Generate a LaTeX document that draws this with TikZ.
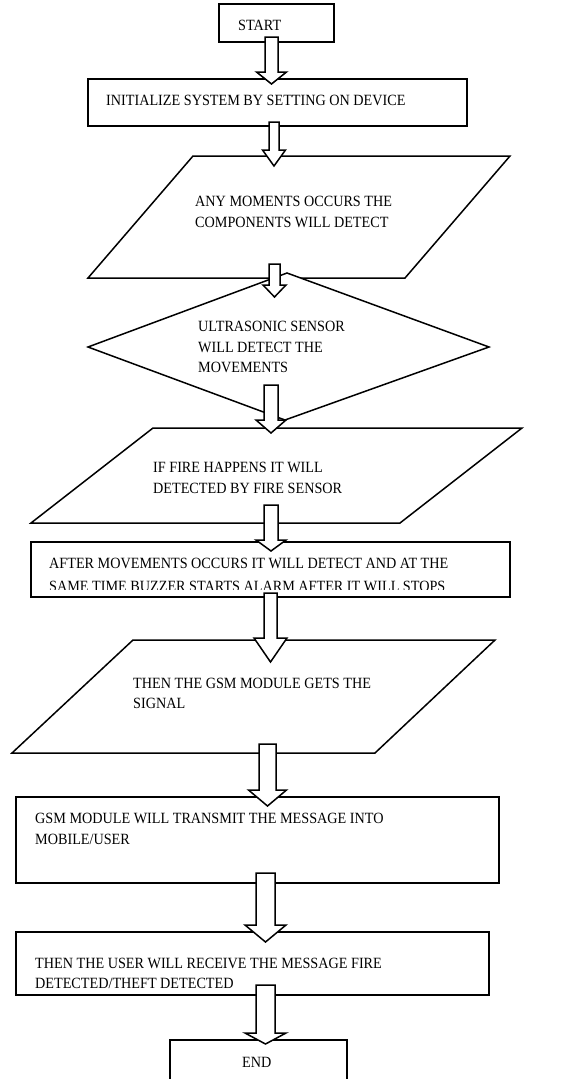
\documentclass[tikz,border=0pt]{standalone}
\usepackage{fontspec}
\usepackage{graphicx}
\setmainfont{Liberation Serif}
\usetikzlibrary{calc}
\tikzset{
  box/.style={draw, line width=1.6pt, fill=white, inner sep=0pt},
  shp/.style={draw, line width=1.5pt, fill=white, line join=miter},
  txt/.style={anchor=base west, inner sep=0pt, font=\fontsize{14.2}{21}\selectfont},
  barr/.style={draw, line width=1.5pt, fill=white, line join=miter},
}
\newcommand\TT[1]{\scalebox{1}[1.1]{#1}}
\newcommand\blockarrow[5]{%
  \path[barr] let \p1=(#1), \p2=(#2) in
    (\x2-#3,\y1) -- (\x2-#3,\y2+#5) -- (\x2-#4,\y2+#5) -- (\x2,\y2)
    -- (\x2+#4,\y2+#5) -- (\x2+#3,\y2+#5) -- (\x2+#3,\y1) -- cycle;}
\begin{document}
\begin{tikzpicture}[x=1pt,y=-1pt]
\clip (0,0) rectangle (585,1079);
\fill[white] (0,0) rectangle (585,1079);

% rectangles
\node[box, minimum width=115pt, minimum height=38pt] (start) at (276.5,23) {};
\node[box, minimum width=379pt, minimum height=47pt] (init) at (277.5,102.5) {};
\node[box, minimum width=479pt, minimum height=55pt] (after) at (270.5,569.5) {};
\node[box, minimum width=483pt, minimum height=86pt] (gsm) at (257.5,840) {};
\node[box, minimum width=473pt, minimum height=63pt] (user) at (252.5,963.5) {};
\node[box, minimum width=177pt, minimum height=60pt] (end) at (258.5,1070) {};

% parallelograms and diamond
\path[shp] (193,156) coordinate (p1a) -- (510,156) -- (405,278) -- (88,278) -- cycle;
\path[shp] (287,273) coordinate (dtop) -- (489,347) -- (285,420) coordinate (dbot) -- (88,347) -- cycle;
\path[shp] (153,428) coordinate (p2a) -- (522,428) -- (400,523) -- (31,523) -- cycle;
\path[shp] (133,640) coordinate (p3a) -- (495,640) -- (375,753) -- (12,753) -- cycle;

% texts
\node[txt] (tstart) at (238,30.5) {\TT{START}};
\node[txt] (tinit) at (106,105) {\TT{INITIALIZE SYSTEM BY SETTING ON DEVICE}};
\node[txt] (tany1) at (195,206) {\TT{ANY MOMENTS OCCURS THE}};
\node[txt] (tany2) at (195,227) {\TT{COMPONENTS WILL DETECT}};
\node[txt] (tus1) at (198,331) {\TT{ULTRASONIC SENSOR}};
\node[txt] (tus2) at (198,352) {\TT{WILL DETECT THE}};
\node[txt] (tus3) at (198,372) {\TT{MOVEMENTS}};
\node[txt] (tif1) at (153,472) {\TT{IF FIRE HAPPENS IT WILL}};
\node[txt] (tif2) at (153,493) {\TT{DETECTED BY FIRE SENSOR}};
\node[txt] (taf1) at (49,568) {\TT{AFTER MOVEMENTS OCCURS IT WILL DETECT AND AT THE}};
\begin{scope}
  \clip (31,575) rectangle (510,589.5);
  \node[txt] (taf2) at (49,591.5) {\TT{SAME TIME BUZZER STARTS ALARM AFTER IT WILL STOPS}};
\end{scope}
\node[txt] (tthen1) at (133,688) {\TT{THEN THE GSM MODULE GETS THE}};
\node[txt] (tthen2) at (133,708) {\TT{SIGNAL}};
\node[txt] (tgsm1) at (35,823) {\TT{GSM MODULE WILL TRANSMIT THE MESSAGE INTO}};
\node[txt] (tgsm2) at (35,844) {\TT{MOBILE/USER}};
\node[txt] (tuser1) at (35,968) {\TT{THEN THE USER WILL RECEIVE THE MESSAGE FIRE}};
\node[txt] (tuser2) at (35,988) {\TT{DETECTED/THEFT DETECTED}};
\node[txt] (tend) at (242,1067) {\TT{END}};

% arrow anchor coordinates
\coordinate (a1s) at (271.5,37);  \coordinate (a1t) at (271.5,84);
\coordinate (a2s) at (274,122);   \coordinate (a2t) at (274,166);
\coordinate (a3s) at (274.5,264); \coordinate (a3t) at (274.5,297);
\coordinate (a4s) at (271,385);   \coordinate (a4t) at (271,433);
\coordinate (a5s) at (271,505);   \coordinate (a5t) at (271,551);
\coordinate (a6s) at (270.5,593); \coordinate (a6t) at (270.5,662);
\coordinate (a7s) at (267.5,744); \coordinate (a7t) at (267.5,806);
\coordinate (a8s) at (265.5,873); \coordinate (a8t) at (265.5,942);
\coordinate (a9s) at (265.5,985); \coordinate (a9t) at (265.5,1044);

% block arrows
\blockarrow{a1s}{a1t}{6.5pt}{15pt}{12pt}
\blockarrow{a2s}{a2t}{5pt}{11.5pt}{16pt}
\blockarrow{a3s}{a3t}{5.5pt}{11.5pt}{12pt}
\blockarrow{a4s}{a4t}{7pt}{15pt}{13pt}
\blockarrow{a5s}{a5t}{7pt}{15pt}{11pt}
\blockarrow{a6s}{a6t}{6.5pt}{16.5pt}{24pt}
\blockarrow{a7s}{a7t}{8.5pt}{19pt}{16pt}
\blockarrow{a8s}{a8t}{9.5pt}{20.5pt}{17pt}
\blockarrow{a9s}{a9t}{9.5pt}{20.5pt}{11pt}
\end{tikzpicture}
\end{document}
